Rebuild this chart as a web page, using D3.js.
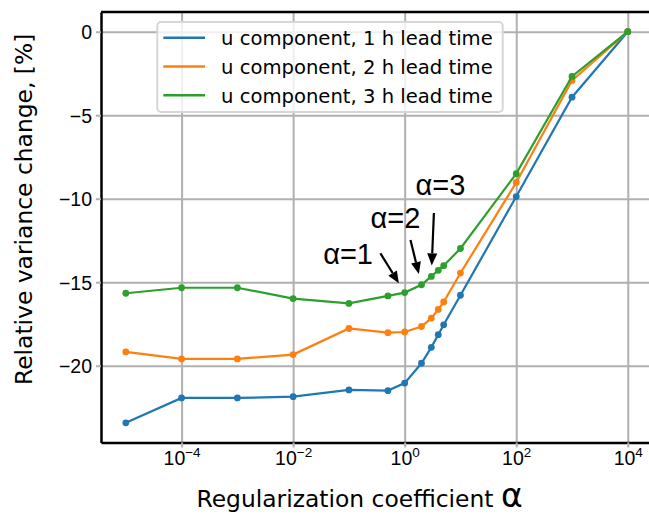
<!DOCTYPE html>
<html lang="en">
<head>
    <meta charset="UTF-8">
    <title>Relative variance change</title>
    <script src="https://cdn.jsdelivr.net/npm/d3@7"></script>
    <style>
        body{
            margin: 0;
            background: #fff;
        }
        svg{
            display: block;
            font-family: 'DejaVu Sans', sans-serif;
        }
        .grid line{
            stroke: #b0b0b0;
            stroke-width: 2;
        }
        .grid path{
            display: none;
        }
        .eje line{
            stroke: #b0b0b0;
            stroke-width: 2;
        }
        .eje path{
            stroke: #000;
            stroke-width: 2.5;
        }
        .eje text{
            font-size: 19.5px;
            fill: #000;
        }
        .serie{
            fill: none;
            stroke-width: 2.2;
        }
        .leyenda{
            font-size: 19.6px;
        }
        .titulo{
            font-size: 23.4px;
        }
        .anota{
            font-family: 'Liberation Sans', Arial, sans-serif;
            font-size: 29px;
        }
    </style>
</head>
<body>
<div id="grafico"></div>

<script>

// alpha values (log x axis)
var alphas = [1e-5, 1e-4, 1e-3, 1e-2, 1e-1, 0.5, 1, 2, 3, 4, 5, 10, 100, 1000, 10000];
// relative variance change, %
var lead1h = [-23.42, -21.93, -21.93, -21.85, -21.45, -21.49, -21.04, -19.85, -18.9, -18.14, -17.55, -15.78, -9.87, -3.92, 0];
var lead2h = [-19.17, -19.59, -19.59, -19.33, -17.77, -18.02, -17.98, -17.65, -17.15, -16.63, -16.18, -14.45, -9.03, -2.92, 0];
var lead3h = [-15.66, -15.33, -15.33, -15.98, -16.27, -15.82, -15.62, -15.15, -14.65, -14.29, -14.01, -12.98, -8.5, -2.68, 0];
var nombres = ["u component, 1 h lead time", "u component, 2 h lead time", "u component, 3 h lead time"];
var colores = ["#1f77b4", "#ff7f0e", "#2ca02c"];
var xTicks = [1e-4, 1e-2, 1, 1e2, 1e4];
var yTicks = [0, -5, -10, -15, -20];
var marcados = [1, 2, 3];   // annotated alphas on the 3 h curve

var w = 649;
var h = 515;
var izq = 101, der = 652.6, arriba = 12, abajo = 442.4;

var xScale = d3.scaleLog()
    .domain([Math.pow(10, -5.445), Math.pow(10, 4.445)])
    .range([izq, der]);

var yScale = d3.scaleLinear()
    .domain([-24.59, 1.18])
    .range([abajo, arriba]);

var grafico = d3.select("#grafico")
    .append("svg")
    .attr("width", w)
    .attr("height", h);

// grid
grafico.append("g")
    .attr("class", "grid")
    .attr("transform", "translate(0," + abajo + ")")
    .call(d3.axisBottom(xScale).tickValues(xTicks).tickSize(-(abajo - arriba)).tickFormat(""));
grafico.append("g")
    .attr("class", "grid")
    .attr("transform", "translate(" + izq + ",0)")
    .call(d3.axisLeft(yScale).tickValues(yTicks).tickSize(-(der - izq)).tickFormat(""));

// series
var series = [lead1h, lead2h, lead3h];
var linea = d3.line()
    .x(function(d, i){ return xScale(alphas[i]); })
    .y(function(d){ return yScale(d); });

series.forEach(function(s, k){
    grafico.append("path")
        .datum(s)
        .attr("class", "serie")
        .attr("stroke", colores[k])
        .attr("d", linea);
    grafico.selectAll(".pt" + k)
        .data(s)
        .enter()
        .append("circle")
        .attr("class", "pt" + k)
        .attr("cx", function(d, i){ return xScale(alphas[i]); })
        .attr("cy", function(d){ return yScale(d); })
        .attr("r", 3.4)
        .attr("fill", colores[k]);
});

// axes
var ejeY = grafico.append("g")
    .attr("class", "eje")
    .attr("transform", "translate(" + izq + ",0)")
    .call(d3.axisLeft(yScale).tickValues(yTicks).tickSize(5).tickSizeOuter(0).tickPadding(4));
ejeY.selectAll("text").attr("dy", "0.36em");

var ejeX = grafico.append("g")
    .attr("class", "eje")
    .attr("transform", "translate(0," + abajo + ")")
    .call(d3.axisBottom(xScale).tickValues(xTicks).tickSize(5).tickSizeOuter(0).tickFormat(""));
ejeX.selectAll(".tick").append("text")
    .attr("y", 23)
    .attr("text-anchor", "middle")
    .each(function(d){
        var t = d3.select(this);
        t.append("tspan").text("10");
        t.append("tspan")
            .attr("dy", -8)
            .style("font-size", "13.5px")
            .text(d3.format("")(Math.round(Math.log10(d))));
    });

grafico.append("line")
    .attr("x1", izq).attr("x2", der)
    .attr("y1", arriba).attr("y2", arriba)
    .attr("stroke", "#000").attr("stroke-width", 2.5);

// axis titles
grafico.append("text")
    .attr("class", "titulo")
    .attr("x", 196.5)
    .attr("y", 507)
    .text("Regularization coefficient ")
    .append("tspan")
    .style("font-size", "33px")
    .text("α");

grafico.append("text")
    .attr("class", "titulo")
    .attr("transform", "translate(31.5,385) rotate(-90)")
    .text("Relative variance change, [%]");

// legend
var leyenda = grafico.append("g").attr("class", "leyenda");
leyenda.append("rect")
    .attr("x", 157.3).attr("y", 22)
    .attr("width", 345.4).attr("height", 90)
    .attr("rx", 4)
    .attr("fill", "#fff").attr("fill-opacity", 0.8)
    .attr("stroke", "#d6d6d6").attr("stroke-width", 2);
nombres.forEach(function(n, k){
    var yy = 37.7 + k * 28.8;
    leyenda.append("line")
        .attr("x1", 163.3).attr("x2", 205)
        .attr("y1", yy).attr("y2", yy)
        .attr("stroke", colores[k]).attr("stroke-width", 2.6);
    leyenda.append("text")
        .attr("x", 221).attr("y", yy + 7.5)
        .text(n);
});

// annotations: text offset from the marked point (px)
var desplaza = [[-81.5, -29], [-51, -56.4], [-15.7, -81.7]];
var inicio = [[-24.3, -39.3], [-11, -44.7], [2.6, -63.4]];
marcados.forEach(function(a, k){
    var i = alphas.indexOf(a);
    var px = xScale(a), py = yScale(lead3h[i]);
    grafico.append("text")
        .attr("class", "anota")
        .attr("x", px + desplaza[k][0])
        .attr("y", py + desplaza[k][1])
        .text("α=" + a);
    var sx = px + inicio[k][0], sy = py + inicio[k][1];
    var dx = px - sx, dy = py - sy, L = Math.sqrt(dx * dx + dy * dy);
    var ux = dx / L, uy = dy / L;
    var tx = px - ux * 11, ty = py - uy * 11;    // tip
    var bx = tx - ux * 12, by = ty - uy * 12;    // head base
    grafico.append("line")
        .attr("x1", sx).attr("y1", sy)
        .attr("x2", bx).attr("y2", by)
        .attr("stroke", "#000").attr("stroke-width", 2.2);
    grafico.append("path")
        .attr("d", "M" + tx + "," + ty +
            "L" + (bx - uy * 5) + "," + (by + ux * 5) +
            "L" + (bx + uy * 5) + "," + (by - ux * 5) + "Z")
        .attr("fill", "#000");
});

</script>
</body>
</html>
